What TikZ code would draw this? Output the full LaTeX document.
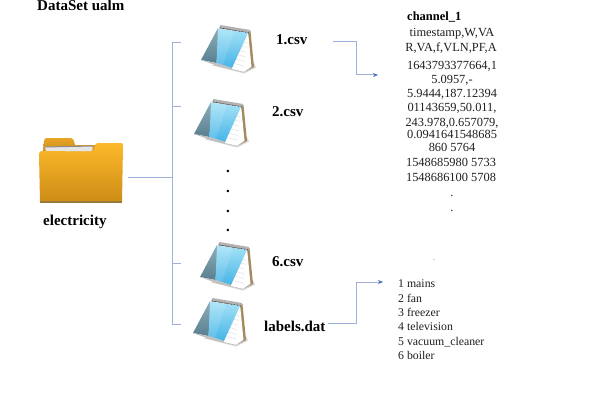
\documentclass[tikz,border=0pt]{standalone}
\usepackage{fontspec}
\setmainfont{Liberation Serif}
\usetikzlibrary{arrows.meta,calc}
\definecolor{linkblue}{HTML}{9DB2D6}
\definecolor{tipblue}{HTML}{4A70B8}
\definecolor{slatedark}{HTML}{587F90}
\definecolor{slatelight}{HTML}{8FADBA}
\definecolor{skytop}{HTML}{A6E2F7}
\definecolor{skybottom}{HTML}{45B4E6}
\definecolor{spinebrown}{HTML}{A5895F}
\definecolor{foldertop}{HTML}{FDB92B}
\definecolor{folderbot}{HTML}{CC8C16}
\definecolor{tabtop}{HTML}{E8A524}
\definecolor{tabbot}{HTML}{C98E1E}
\definecolor{folderedge}{HTML}{9A7A3C}
\tikzset{
  link/.style={draw=linkblue,line width=1pt},
  arrowlink/.style={link,-{Stealth[length=5pt,width=4pt,color=tipblue]}},
  boldlabel/.style={font=\fontsize{15}{15}\selectfont\bfseries,anchor=base west,inner sep=0pt,text=black},
  boldsmall/.style={font=\fontsize{12.5}{12.5}\selectfont\bfseries,anchor=base west,inner sep=0pt},
  datacenter/.style={font=\fontsize{12.4}{12.4}\selectfont,anchor=base,inner sep=0pt,text=black!88},
  dataleft/.style={font=\fontsize{11.8}{11.8}\selectfont,anchor=base west,inner sep=0pt,text=black!88},
  dotmark/.style={font=\fontsize{15}{15}\selectfont\bfseries,anchor=base,inner sep=0pt},
  anchorpt/.style={inner sep=0pt,minimum size=0pt},
  pics/notepad/.style={code={
    % soft shadow
    \fill[black!15] (10,40) -- (43,48.5) -- (55,42.5) -- (53,38) -- cycle;
    % back cover (brown)
    \fill[spinebrown] (46,6) -- (49.5,6) -- (53,42) -- (45,46) -- cycle;
    % pages
    \fill[white] (47,6) -- (50.5,42) -- (43,47) -- (12,39.5) -- (30,20) -- cycle;
    \draw[black!25,line width=.5pt] (12,40) -- (43,47.2) -- (50.5,42);
    \foreach \t in {0.15,0.27,0.39,0.51,0.63,0.75}{
      \draw[black!14,line width=.4pt] ($(43,47)!\t!(47,8)$) -- ++(-10,-2.6);
    }
    % binding
    \fill[black!30] (19.5,0) -- (49,5) -- (48.5,8) -- (18,3) -- cycle;
    \draw[black!75,line width=.9pt,dash pattern=on .8pt off .7pt] (19,3) -- (48,8);
    % cover: dark part
    \shade[bottom color=slatedark,top color=slatelight] (0,35) -- (17,3) -- (18,5) -- (15.5,38) -- cycle;
    % cover: blue part
    \shade[top color=skytop,bottom color=skybottom] (17,3.5) -- (47,8) -- (31,43) -- (15.5,38) -- cycle;
    \fill[white,opacity=.12] (17,3.5) -- (33,6) -- (22,39.8) -- (15.5,38) -- cycle;
    \fill[black!25] (0,35) -- (15.5,38) -- (31,43) -- (30.5,44.5) -- (14,40) -- cycle;
  }}
}
\begin{document}
\begin{tikzpicture}[x=1pt,y=-1pt]
\useasboundingbox (0,0) rectangle (608,412);
\fill[white] (0,0) rectangle (608,412);

% Folder
\shade[top color=tabtop,bottom color=tabbot] (43,152) -- (44,141) .. controls (44,139) and (45,138) .. (47,138) -- (71,138) .. controls (73,138) and (74,140) .. (75,145) -- (96,145) -- (96,152) -- cycle;
\fill[black!10] (45,147) -- (93,146) -- (92,151.5) -- (46,152) -- cycle;
\fill[black!45] (45,146.5) -- (93,145.5) -- (93,146.5) -- (45,147.5) -- cycle;
\shade[top color=foldertop,bottom color=folderbot] (39,154) .. controls (39,152) and (40,151) .. (42,151) -- (90,151.5) .. controls (93,151.5) and (94,150) .. (95,146) .. controls (95,144) and (96,143) .. (98,143) -- (121,143) .. controls (122.5,143) and (123,144) .. (123,146) -- (122,202) -- (40,202) -- cycle;
\fill[folderedge] (40,201) rectangle (122,203);
\node[anchorpt] (folder) at (128,177) {};
\node[boldlabel] (foldername) at (43,225) {electricity};
\node[boldlabel] (title) at (37,11) {DataSet ualm};

% Icons
\pic at (201,25) {notepad};
\pic at (194,99) {notepad};
\pic at (200,242) {notepad};
\pic at (193,298) {notepad};

% File tree
\coordinate (junction) at (172,177);
\coordinate (top) at (172,43);
\coordinate (second) at (172,106);
\coordinate (sixth) at (172,263);
\coordinate (last) at (172,324);
\coordinate (leaf1) at (181,43);
\coordinate (leaf2) at (181,106);
\coordinate (leaf6) at (181,263);
\coordinate (leaflabels) at (181,324);
\draw[link] (folder) -- (junction);
\draw[link] (leaf1) -- (top) -- (last) -- (leaflabels);
\draw[link] (second) -- (leaf2);
\draw[link] (sixth) -- (leaf6);

% File names
\node[boldlabel] (csvone) at (276,45) {1.csv};
\node[boldlabel] (csvtwo) at (272,116) {2.csv};
\node[boldlabel] (csvsix) at (272,266) {6.csv};
\node[boldlabel] (labelsdat) at (264,331) {labels.dat};

% Ellipsis
\node[dotmark] (dota) at (228,172) {.};
\node[dotmark] (dotb) at (228,192) {.};
\node[dotmark] (dotc) at (228,212) {.};
\node[dotmark] (dotd) at (228,231) {.};

% Arrows
\coordinate (csvout) at (333,42);
\coordinate (csvin) at (378,75);
\coordinate (labelsout) at (328,323);
\coordinate (labelsin) at (383,282);
\draw[arrowlink] (csvout) -| (356,75) -- (csvin);
\draw[arrowlink] (labelsout) -| (356,282) -- (labelsin);

% channel text
\node[boldsmall] (chan) at (407,21) {channel\_1};
\node[datacenter] (d1) at (452,37) {timestamp,W,VA};
\node[datacenter] (d2) at (451,52) {R,VA,f,VLN,PF,A};
\node[datacenter] (d3) at (452,70) {1643793377664,1};
\node[datacenter] (d4) at (452,84) {5.0957,-};
\node[datacenter] (d5) at (452,98) {5.9444,187.12394};
\node[datacenter] (d6) at (452,111) {01143659,50.011,};
\node[datacenter] (d7) at (452,126) {243.978,0.657079,};
\node[datacenter] (d8) at (452,139) {0.0941641548685};
\node[datacenter] (d9) at (452,151) {860 5764};
\node[datacenter] (d10) at (451,166) {1548685980 5733};
\node[datacenter] (d11) at (451,181) {1548686100 5708};
\node[datacenter] (d12) at (452,196) {.};
\node[datacenter] (d13) at (452,211) {.};

% stray dot above the labels list
\node[datacenter,font=\fontsize{8}{8}\selectfont,text=black!50] (stray) at (434,260) {.};

% labels list
\node[dataleft] (l1) at (398,287) {1 mains};
\node[dataleft] (l2) at (398,302) {2 fan};
\node[dataleft] (l3) at (398,316) {3 freezer};
\node[dataleft] (l4) at (398,330) {4 television};
\node[dataleft] (l5) at (398,345) {5 vacuum\_cleaner};
\node[dataleft] (l6) at (398,359) {6 boiler};
\end{tikzpicture}
\end{document}
